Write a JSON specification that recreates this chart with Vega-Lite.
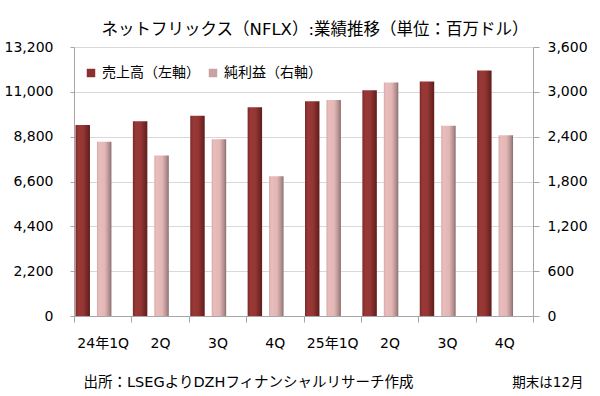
{
  "$schema": "https://vega.github.io/schema/vega-lite/v6.json",
  "width": 459,
  "height": 269,
  "autosize": {"type": "none"},
  "padding": {"left": 74, "top": 47, "right": 67, "bottom": 80},
  "background": "white",
  "title": {
    "text": "ネットフリックス（NFLX）:業績推移（単位：百万ドル）",
    "fontSize": 16.5,
    "font": "DejaVu Sans, Noto Sans CJK JP",
    "fontWeight": "normal",
    "color": "#000000",
    "anchor": "middle",
    "frame": "group",
    "dx": 11.5,
    "dy": 22,
    "offset": 11,
    "baseline": "alphabetic"
  },
  "data": {
    "values": [
      {"q": "24年1Q", "s": "売上高（左軸）", "v": 9370},
      {"q": "24年2Q", "s": "売上高（左軸）", "v": 9559},
      {"q": "24年3Q", "s": "売上高（左軸）", "v": 9825},
      {"q": "24年4Q", "s": "売上高（左軸）", "v": 10247},
      {"q": "25年1Q", "s": "売上高（左軸）", "v": 10543},
      {"q": "25年2Q", "s": "売上高（左軸）", "v": 11079},
      {"q": "25年3Q", "s": "売上高（左軸）", "v": 11510},
      {"q": "25年4Q", "s": "売上高（左軸）", "v": 12051},
      {"q": "24年1Q", "s": "純利益（右軸）", "v": 2332},
      {"q": "24年2Q", "s": "純利益（右軸）", "v": 2147},
      {"q": "24年3Q", "s": "純利益（右軸）", "v": 2364},
      {"q": "24年4Q", "s": "純利益（右軸）", "v": 1869},
      {"q": "25年1Q", "s": "純利益（右軸）", "v": 2890},
      {"q": "25年2Q", "s": "純利益（右軸）", "v": 3125},
      {"q": "25年3Q", "s": "純利益（右軸）", "v": 2547},
      {"q": "25年4Q", "s": "純利益（右軸）", "v": 2419}
    ]
  },
  "layer": [
    {
      "transform": [{"filter": "datum.s === '売上高（左軸）'"}],
      "mark": {"type": "bar"},
      "encoding": {
        "x": {
          "field": "q", "type": "nominal",
          "scale": {"domain": ["24年1Q","24年2Q","24年3Q","24年4Q","25年1Q","25年2Q","25年3Q","25年4Q"], "paddingInner": 0, "paddingOuter": 0},
          "axis": {
            "title": "出所：LSEGよりDZHフィナンシャルリサーチ作成",
            "titleAnchor": "start", "titleAlign": "left", "titleX": 9, "titleY": 70,
            "titleBaseline": "alphabetic", "titleFontSize": 14.5, "titleFontWeight": "normal", "titleColor": "#000000",
            "labelAngle": 0, "labelFontSize": 14, "labelColor": "#000000", "labelPadding": 14,
            "tickBand": "extent", "tickSize": 6, "tickColor": "#a6a6a6", "domainColor": "#a6a6a6",
            "labelExpr": "indexof(datum.label, '1Q') >= 0 ? datum.label : substring(datum.label, 3)"
          }
        },
        "xOffset": {
          "field": "s", "type": "nominal",
          "scale": {"domain": ["売上高（左軸）", "純利益（右軸）"], "paddingInner": 0.326, "paddingOuter": 0.5, "align": 0.07}
        },
        "y": {
          "field": "v", "type": "quantitative",
          "scale": {"domain": [0, 13200], "nice": false},
          "axis": {
            "orient": "left", "title": null,
            "values": [0, 2200, 4400, 6600, 8800, 11000, 13200], "format": ",d",
            "grid": true, "gridColor": "#d9d9d9", "domainColor": "#a6a6a6", "tickColor": "#a6a6a6",
            "tickSize": 4, "labelPadding": 17, "labelFontSize": 14, "labelColor": "#000000"
          }
        },
        "color": {
          "field": "s", "type": "nominal",
          "scale": {
            "domain": ["売上高（左軸）", "純利益（右軸）"],
            "range": ["#8a302e", "#c9a2a1"]
          },
          "condition": {
            "test": "true",
            "value": {"gradient": "linear", "x1": 0, "y1": 0, "x2": 1, "y2": 0, "stops": [
                {"offset": 0, "color": "#7a2927"}, {"offset": 0.2, "color": "#993937"},
                {"offset": 0.55, "color": "#943634"}, {"offset": 1, "color": "#5e1d1c"}]}
          },
          "legend": {
            "orient": "none", "legendX": 10, "legendY": 19, "direction": "horizontal", "title": null,
            "symbolType": "square", "symbolSize": 72, "symbolStrokeWidth": 0,
            "labelFontSize": 14, "labelColor": "#000000", "labelOffset": 4, "columnPadding": 6
          }
        }
      }
    },
    {
      "transform": [{"filter": "datum.s === '純利益（右軸）'"}],
      "mark": {"type": "bar"},
      "encoding": {
        "x": {"field": "q", "type": "nominal"},
        "xOffset": {"field": "s", "type": "nominal"},
        "y": {
          "field": "v", "type": "quantitative",
          "scale": {"domain": [0, 3600], "nice": false},
          "axis": {
            "orient": "right",
            "title": "期末は12月", "titleAngle": 0, "titleAlign": "right", "titleX": 50, "titleY": 339,
            "titleBaseline": "alphabetic", "titleFontSize": 13.5, "titleFontWeight": "normal", "titleColor": "#000000",
            "values": [0, 600, 1200, 1800, 2400, 3000, 3600], "format": ",d",
            "grid": false, "domainColor": "#a6a6a6", "tickColor": "#a6a6a6",
            "tickSize": 6, "labelPadding": 8, "labelFontSize": 14, "labelColor": "#000000"
          }
        },
        "color": {
          "field": "s", "type": "nominal",
          "condition": {
            "test": "true",
            "value": {"gradient": "linear", "x1": 0, "y1": 0, "x2": 1, "y2": 0, "stops": [
                {"offset": 0, "color": "#d6a9a8"}, {"offset": 0.15, "color": "#e8bdbc"},
                {"offset": 0.55, "color": "#e3b6b5"}, {"offset": 0.85, "color": "#b08e8e"}, {"offset": 1, "color": "#8a6c6c"}]}
          }
        }
      }
    }
  ],
  "resolve": {"scale": {"y": "independent"}, "axis": {"y": "independent"}},
  "config": {
    "view": {"stroke": null},
    "font": "DejaVu Sans, Noto Sans CJK JP"
  }
}
